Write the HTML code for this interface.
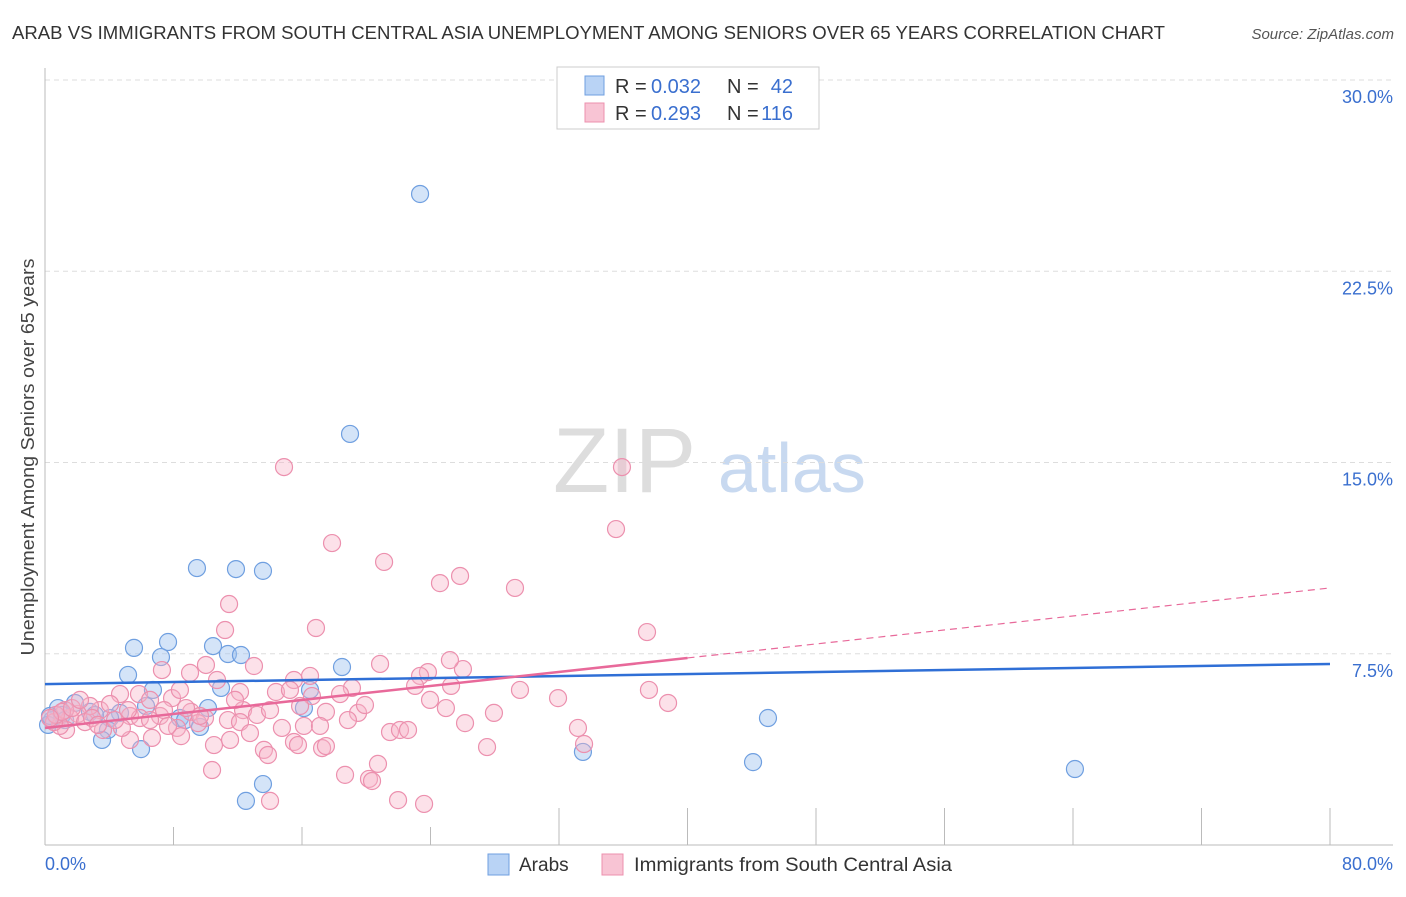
<!DOCTYPE html>
<html><head><meta charset="utf-8"><style>
body{margin:0;background:#fff;font-family:"Liberation Sans",sans-serif;}
svg text{font-family:"Liberation Sans",sans-serif;}
</style></head><body>
<svg id="chart" width="1406" height="892" xmlns="http://www.w3.org/2000/svg">
<text x="12" y="39" font-size="18" fill="#333" textLength="1153" lengthAdjust="spacingAndGlyphs">ARAB VS IMMIGRANTS FROM SOUTH CENTRAL ASIA UNEMPLOYMENT AMONG SENIORS OVER 65 YEARS CORRELATION CHART</text>
<text x="1394" y="39" font-size="15" fill="#555" text-anchor="end" font-style="italic">Source: ZipAtlas.com</text>
<g>
<text x="553" y="492" font-size="92" fill="#ddd" font-family="Liberation Serif,serif">ZIP</text>
<text x="718" y="492" font-size="70" fill="#c8d9f0">atlas</text>
</g>
<g id="grid"></g>
<g id="axes"></g>
<g id="points"></g>
<g id="lines"></g>
<text transform="translate(34,457) rotate(-90)" font-size="18" fill="#444" text-anchor="middle" textLength="397" lengthAdjust="spacingAndGlyphs">Unemployment Among Seniors over 65 years</text>
<g>
<rect x="557" y="67" width="262" height="62" fill="#fff" stroke="#ccc"/>
<rect x="585" y="76" width="19" height="19" fill="#b9d3f5" stroke="#6f9fe0"/>
<rect x="585" y="103" width="19" height="19" fill="#f8c4d4" stroke="#ec90ae"/>
<text x="615" y="93" font-size="20" fill="#333">R =</text>
<text x="651" y="93" font-size="20" fill="#3a6fcf">0.032</text>
<text x="727" y="93" font-size="20" fill="#333">N =</text>
<text x="793" y="93" font-size="20" fill="#3a6fcf" text-anchor="end">42</text>
<text x="615" y="120" font-size="20" fill="#333">R =</text>
<text x="651" y="120" font-size="20" fill="#3a6fcf">0.293</text>
<text x="727" y="120" font-size="20" fill="#333">N =</text>
<text x="793" y="120" font-size="20" fill="#3a6fcf" text-anchor="end">116</text>
</g>
<g>
<rect x="488" y="854" width="21" height="21" fill="#b9d3f5" stroke="#6f9fe0"/>
<text x="519" y="871" font-size="19" fill="#333">Arabs</text>
<rect x="602" y="854" width="21" height="21" fill="#f8c4d4" stroke="#ec90ae"/>
<text x="634" y="871" font-size="19" fill="#333" textLength="318" lengthAdjust="spacingAndGlyphs">Immigrants from South Central Asia</text>
</g>
</svg>
<script>
const yTicks=[7.5,15,22.5,30];
const yTickLabels=["7.5%","15.0%","22.5%","30.0%"];
const xTickVals=[0,8,16,24,32,40,48,56,64,72,80];
const xEndLabels=["0.0%","80.0%"];
const bluePx=[[420,194],[350,434],[197,568],[236,569],[263,571],[134,648],[168,642],[213,646],[228,654],[241,655],[161,657],[342,667],[128,675],[153,690],[221,688],[310,690],[208,708],[304,708],[146,706],[75,703],[58,708],[90,712],[120,713],[52,720],[48,725],[62,715],[110,718],[180,718],[185,720],[200,727],[108,730],[102,740],[141,749],[583,752],[768,718],[753,762],[263,784],[246,801],[1075,769],[50,716],[65,720],[95,715]];
const pinkPx=[[284,467],[622,467],[616,529],[332,543],[384,562],[460,576],[440,583],[515,588],[229,604],[316,628],[225,630],[647,632],[206,665],[254,666],[380,664],[463,669],[428,672],[420,676],[162,670],[190,673],[217,680],[294,680],[310,676],[240,692],[352,688],[451,686],[415,686],[120,694],[139,694],[172,698],[276,692],[312,696],[558,698],[649,690],[668,703],[446,708],[494,713],[326,712],[358,713],[243,710],[257,715],[191,712],[160,716],[130,716],[100,710],[90,706],[110,704],[78,714],[70,718],[85,722],[140,718],[150,720],[205,718],[228,720],[240,722],[282,728],[304,726],[320,726],[348,720],[465,723],[578,728],[390,732],[400,730],[408,730],[250,733],[198,723],[177,728],[181,736],[152,738],[130,740],[122,728],[103,730],[66,730],[60,726],[54,722],[65,710],[294,742],[298,745],[214,745],[230,740],[264,750],[268,755],[322,748],[326,746],[487,747],[584,744],[378,764],[345,775],[369,779],[372,781],[212,770],[398,800],[424,804],[270,801],[56,715],[62,712],[72,708],[50,718],[115,720],[92,718],[164,710],[186,708],[200,716],[290,690],[340,694],[235,700],[270,710],[365,705],[430,700],[520,690],[450,660],[300,706],[180,690],[150,700],[80,700],[98,725],[128,710],[168,726]];
const arabsX=bluePx.map(p=>+((p[0]-45)/1285*80).toFixed(2));
const arabsY=bluePx.map(p=>+((845-p[1])/25.5).toFixed(2));
const immX=pinkPx.map(p=>+((p[0]-45)/1285*80).toFixed(2));
const immY=pinkPx.map(p=>+((845-p[1])/25.5).toFixed(2));
const arabsTrend=[6.31,7.10];
const immTrend=[4.59,10.08];
const immSolidEnd=40;

const NS="http://www.w3.org/2000/svg";
const X=v=>45+v/80*1285, Y=v=>845-v/30*765;
function mk(tag,attrs,parent){const e=document.createElementNS(NS,tag);for(const k in attrs)e.setAttribute(k,attrs[k]);parent.appendChild(e);return e;}
const grid=document.getElementById('grid'),axes=document.getElementById('axes'),pts=document.getElementById('points'),lines=document.getElementById('lines');
yTicks.forEach((t,i)=>{
 const l=mk('line',{x1:45,x2:1393,y1:Y(t),y2:Y(t),stroke:'#ddd','stroke-dasharray':'5,4'},grid);
 
 
 const tx=mk('text',{x:1393,y:Y(t)+23,'font-size':18,fill:'#3a6fcf','text-anchor':'end'},grid);
 tx.textContent=yTickLabels[i];
 
 
});
const ax=mk('line',{x1:45,x2:45,y1:68,y2:845,stroke:'#bbb'},axes);


const bx=mk('line',{x1:45,x2:1393,y1:845,y2:845,stroke:'#bbb'},axes);


xTickVals.forEach(v=>{
 const tk=mk('line',{x1:X(v),x2:X(v),y1:(v>0&&v<32)?827:808,y2:845,stroke:'#bbb'},axes);
 
 
});
[[0,'start',45],[80,'end',1393]].forEach((d,i)=>{
 const t=mk('text',{x:d[2],y:870,'font-size':18,fill:'#3a6fcf','text-anchor':d[1]},axes);
 t.textContent=xEndLabels[i];
 
 
});
arabsX.forEach((x,i)=>{
 const c=mk('circle',{cx:X(x),cy:Y(arabsY[i]),r:8.5,fill:'rgba(160,196,240,0.45)',stroke:'#6f9fe0','stroke-width':1.2},pts);
 
 
});
immX.forEach((x,i)=>{
 const c=mk('circle',{cx:X(x),cy:Y(immY[i]),r:8.5,fill:'rgba(248,180,200,0.4)',stroke:'#ec90ae','stroke-width':1.2},pts);
 
 
});
const bl=mk('line',{x1:X(0),y1:Y(arabsTrend[0]),x2:X(80),y2:Y(arabsTrend[1]),stroke:'#2f6fd6','stroke-width':2.5},lines);


const iy=v=>immTrend[0]+(immTrend[1]-immTrend[0])*v/80;
const pl=mk('line',{x1:X(0),y1:Y(iy(0)),x2:X(immSolidEnd),y2:Y(iy(immSolidEnd)),stroke:'#e8699a','stroke-width':2.5},lines);


const pd=mk('line',{x1:X(immSolidEnd),y1:Y(iy(immSolidEnd)),x2:X(80),y2:Y(iy(80)),stroke:'#e8699a','stroke-width':1.2,'stroke-dasharray':'7,5'},lines);


</script>
</body></html>
